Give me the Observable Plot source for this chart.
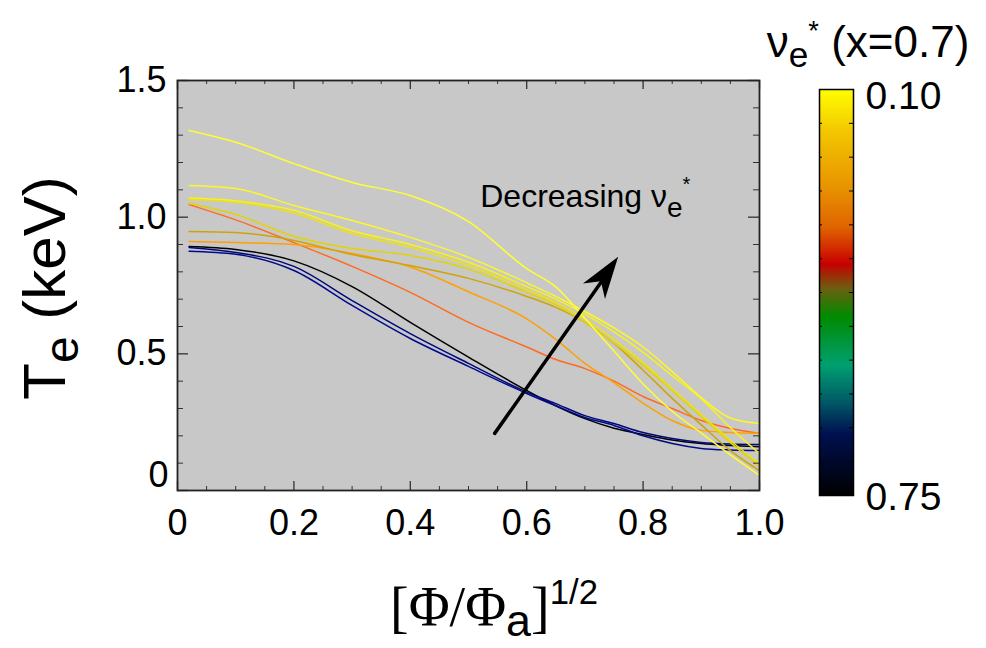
<!DOCTYPE html>
<html><head><meta charset="utf-8">
<script src="https://cdn.jsdelivr.net/npm/d3@7"></script>
<script src="https://cdn.jsdelivr.net/npm/@observablehq/plot@0.6"></script>
<style>
body{margin:0;background:#fff;}
#wrap{position:relative;width:986px;height:648px;font-family:"Liberation Sans",Arial,Helvetica,sans-serif;overflow:hidden;}
.lbl{position:absolute;white-space:nowrap;color:#000;line-height:1;}
.sub{font-size:0.8em;position:relative;top:0.28em;}
.sup{font-size:0.62em;position:relative;top:-0.62em;}
.serif{font-family:"Liberation Serif","Times New Roman",serif;}
</style></head><body><div id="wrap"></div>
<script>
// ---- data ----
const rho = [0.02,0.1,0.2,0.3,0.4,0.5,0.6,0.65,0.7,0.75,0.8,0.85,0.9,0.95,1.0];
const shots = ["s1","s2","s3","s4","s5","s6","s7","s8","s9","s10","s11"];
const nuStar = [0.75,0.68,0.67,0.30,0.23,0.19,0.14,0.13,0.12,0.11,0.10];
const te_s1  = [0.893,0.882,0.84,0.746,0.615,0.488,0.366,0.31,0.263,0.228,0.205,0.185,0.172,0.165,0.16];
const te_s2  = [0.889,0.871,0.82,0.695,0.574,0.465,0.36,0.318,0.274,0.245,0.212,0.19,0.176,0.17,0.168];
const te_s3  = [0.875,0.864,0.805,0.677,0.556,0.454,0.355,0.31,0.267,0.238,0.20,0.172,0.154,0.148,0.146];
const te_s4  = [1.046,0.99,0.907,0.82,0.725,0.615,0.525,0.479,0.446,0.40,0.344,0.30,0.256,0.227,0.209];
const te_s5  = [0.911,0.907,0.90,0.867,0.818,0.727,0.628,0.553,0.465,0.395,0.32,0.256,0.22,0.212,0.209];
const te_s6  = [0.948,0.944,0.915,0.863,0.823,0.776,0.71,0.67,0.615,0.538,0.44,0.337,0.24,0.146,0.073];
const te_s7  = [1.05,1.01,0.93,0.885,0.86,0.81,0.725,0.68,0.615,0.54,0.458,0.365,0.27,0.175,0.088];
const te_s8  = [1.065,1.055,1.015,0.94,0.89,0.823,0.735,0.688,0.628,0.553,0.468,0.373,0.278,0.183,0.099];
const te_s9  = [1.07,1.06,1.025,0.95,0.90,0.835,0.746,0.70,0.645,0.58,0.505,0.42,0.335,0.23,0.135];
const te_s10 = [1.116,1.105,1.043,0.988,0.926,0.853,0.76,0.71,0.655,0.595,0.525,0.435,0.34,0.265,0.245];
const te_s11 = [1.317,1.274,1.196,1.127,1.079,0.984,0.812,0.745,0.63,0.51,0.39,0.29,0.21,0.13,0.055];
const teProfiles = [te_s1,te_s2,te_s3,te_s4,te_s5,te_s6,te_s7,te_s8,te_s9,te_s10,te_s11];

const xMajorTicks = [0,0.2,0.4,0.6,0.8,1.0];
const xTickLabels = ["0","0.2","0.4","0.6","0.8","1.0"];
const xMinorTicks = [0.05,0.1,0.15,0.25,0.3,0.35,0.45,0.5,0.55,0.65,0.7,0.75,0.85,0.9,0.95];
const yMajorTicks = [0,0.5,1.0,1.5];
const yTickLabels = ["0","0.5","1.0","1.5"];
const yMinorTicks = [0.1,0.2,0.3,0.4,0.6,0.7,0.8,0.9,1.1,1.2,1.3,1.4];
const cbTickLabels = [{v:0.10,t:"0.10"},{v:0.75,t:"0.75"}];
const arrows = [{x1:0.545,y1:0.209,x2:0.758,y2:0.853}];
const notes = [{x:0.521,y:1.035}];

// colour of each profile line, keyed by nu_e*
const lineStops = [0.10,0.12,0.14,0.17,0.19,0.23,0.30,0.38,0.42,0.464,0.54,0.60,0.67,0.75];
const lineRange = ["#ffff30","#f8f020","#e2d400","#eec000","#d0a400","#ffa000","#ff6a20","#c80000","#706010","#008800","#00a070","#005060","#000a8a","#000000"];
// colour bar appearance
const barStops = [0.10,0.1715,0.256,0.321,0.38,0.42,0.464,0.542,0.60,0.652,0.75];
const barRange = ["#ffff00","#f2c400","#e89400","#e06400","#c80000","#6a6010","#008a00","#00a070","#005a66","#001050","#000000"];

const rows = [];
shots.forEach((s,i)=> rho.forEach((r,j)=> rows.push({shot:s, nu:nuStar[i], rho:r, te:teProfiles[i][j]})));

const FONT = '"Liberation Sans",Arial,Helvetica,sans-serif';
const W = 986, H = 648, mL = 177, mR = 227, mT = 80, mB = 158;
const fw = W-mL-mR, fh = H-mT-mB;
const tickStroke = "#333";

const main = Plot.plot({
  width: W, height: H, marginLeft: mL, marginRight: mR, marginTop: mT, marginBottom: mB,
  x: {domain:[0,1], axis:null},
  y: {domain:[0,1.5], axis:null},
  color: {type:"linear", domain:lineStops, range:lineRange, interpolate:"rgb"},
  style: {fontFamily: FONT, background: "transparent", overflow: "visible"},
  marks: [
    Plot.frame({fill:"#c8c8c8"}),
    Plot.line(rows, {x:"rho", y:"te", z:"shot", stroke:"nu", strokeWidth:1.5, curve:"monotone-x"}),
    // inward ticks
    Plot.tickX(xMajorTicks, {x:d=>d, insetTop: fh-9, stroke:tickStroke, strokeWidth:1.3}),
    Plot.tickX(xMinorTicks, {x:d=>d, insetTop: fh-4, stroke:tickStroke, strokeWidth:1}),
    Plot.tickX(xMajorTicks, {x:d=>d, insetBottom: fh-9, stroke:tickStroke, strokeWidth:1.3}),
    Plot.tickX(xMinorTicks, {x:d=>d, insetBottom: fh-4, stroke:tickStroke, strokeWidth:1}),
    Plot.tickY(yMajorTicks, {y:d=>d, insetRight: fw-11, stroke:tickStroke, strokeWidth:1.3}),
    Plot.tickY(yMinorTicks, {y:d=>d, insetRight: fw-6, stroke:tickStroke, strokeWidth:1}),
    Plot.tickY(yMajorTicks, {y:d=>d, insetLeft: fw-11, stroke:tickStroke, strokeWidth:1.3}),
    Plot.tickY(yMinorTicks, {y:d=>d, insetLeft: fw-6, stroke:tickStroke, strokeWidth:1}),
    Plot.frame({stroke:"#222", strokeWidth:1.8}),
    // tick labels
    Plot.text(xMajorTicks, {x:d=>d, y:0, text:(d,i)=>xTickLabels[i], dy:33, fontSize:36, fill:"#000", lineAnchor:"middle"}),
    Plot.text(yMajorTicks.filter(d=>d!==0), {x:0, y:d=>d, text:d=>yTickLabels[yMajorTicks.indexOf(d)], dx:-11, textAnchor:"end", fontSize:36, fill:"#000", lineAnchor:"middle"}),
    Plot.text([0], {x:0, y:d=>d, text:d=>yTickLabels[0], dx:-9, dy:-15, textAnchor:"end", fontSize:36, fill:"#000", lineAnchor:"middle"}),
    // arrow shaft
    Plot.arrow(arrows, {x1:"x1", y1:"y1", x2:"x2", y2:"y2", stroke:"#000", strokeWidth:3.5, headLength:0, insetEnd:26})
  ]
});

// filled arrow head + rich annotation, positioned through Plot's scales
{
  const sx = main.scale("x"), sy = main.scale("y");
  const svg = d3.select(main);
  const g = svg.append("g");
  arrows.forEach(a => {
    const X1 = sx.apply(a.x1), Y1 = sy.apply(a.y1), X2 = sx.apply(a.x2), Y2 = sy.apply(a.y2);
    const dx = X2-X1, dy = Y2-Y1, len = Math.hypot(dx,dy), ux = dx/len, uy = dy/len, nx = -uy, ny = ux;
    const L = 42, Wd = 13.5, N = 30;
    const pts = [[X2,Y2],[X2-L*ux+Wd*nx, Y2-L*uy+Wd*ny],[X2-N*ux, Y2-N*uy],[X2-L*ux-Wd*nx, Y2-L*uy-Wd*ny]];
    g.append("polygon").attr("points", pts.map(p=>p.join(",")).join(" ")).attr("fill","#000");
  });
  notes.forEach(n => {
    const t = g.append("text").attr("x", sx.apply(n.x)).attr("y", sy.apply(n.y))
      .attr("text-anchor","start")
      .attr("font-family", FONT).attr("font-size", 32).attr("fill","#000");
    t.append("tspan").text("Decreasing \u03bd");
    t.append("tspan").attr("dy", 10).attr("font-size", 28).text("e");
    t.append("tspan").attr("dy", -26).attr("font-size", 20).text("*");
  });
}

// colour bar
const cbLeft = 780;
const cbW = 206, cbmL = 39, cbmR = 133, cbmT = 89, cbmB = 153;
const gradN = 240, gStep = 0.65/gradN;
const grad = d3.range(gradN).map(i => 0.10 + i*gStep);
const cbMinor = d3.range(1,12).map(k => 0.10 + k*0.65/12);
const cbInner = cbW-cbmL-cbmR;
const cb = Plot.plot({
  width: cbW, height: H, marginLeft: cbmL, marginRight: cbmR, marginTop: cbmT, marginBottom: cbmB,
  x: {domain:[0,1], axis:null},
  y: {domain:[0.75,0.10], axis:null},
  color: {type:"linear", domain:barStops, range:barRange, interpolate:"rgb"},
  style: {fontFamily: FONT, background:"transparent", overflow:"visible"},
  marks: [
    Plot.rect(grad, {x1:0, x2:1, y1:d=>d, y2:d=>d+gStep*1.3, fill:d=>d+gStep/2, shapeRendering:"crispEdges"}),
    Plot.tickY(cbMinor, {y:d=>d, insetLeft:cbInner-4, stroke:"#000", strokeWidth:1}),
    Plot.tickY(cbMinor, {y:d=>d, insetRight:cbInner-3, stroke:"#000", strokeWidth:1}),
    Plot.frame({stroke:"#000", strokeWidth:1.5}),
    Plot.text(cbTickLabels.slice(0,1), {x:1, y:"v", text:"t", dx:12, dy:7, textAnchor:"start", lineAnchor:"middle", fontSize:39, fill:"#000"}),
    Plot.text(cbTickLabels.slice(1), {x:1, y:"v", text:"t", dx:12, dy:2, textAnchor:"start", lineAnchor:"middle", fontSize:39, fill:"#000"})
  ]
});

const wrap = document.getElementById("wrap");
main.style.position = "absolute"; main.style.left = "0px"; main.style.top = "0px";
cb.style.position = "absolute"; cb.style.left = cbLeft + "px"; cb.style.top = "0px";
wrap.appendChild(main);
wrap.appendChild(cb);

function addLabel(html, css){
  const d = document.createElement("div");
  d.className = "lbl";
  d.innerHTML = html;
  Object.assign(d.style, css);
  wrap.appendChild(d);
  return d;
}
addLabel('T<span class="sub">e</span> (keV)', {left:"45px", top:"288px", fontSize:"60px", transform:"translate(-50%,-50%) rotate(-90deg)"});
addLabel('<span class="serif">[&Phi;/&Phi;</span><span class="sub" style="top:0.22em">a</span><span class="serif">]</span><span class="sup">1/2</span>', {left:"494px", top:"607px", fontSize:"56px", transform:"translate(-50%,-50%)"});
addLabel('&nu;<span class="sub">e</span><span class="sup">*</span> (x=0.7)', {left:"868px", top:"42px", fontSize:"44px", transform:"translate(-50%,-50%)"});
</script>
</body></html>
